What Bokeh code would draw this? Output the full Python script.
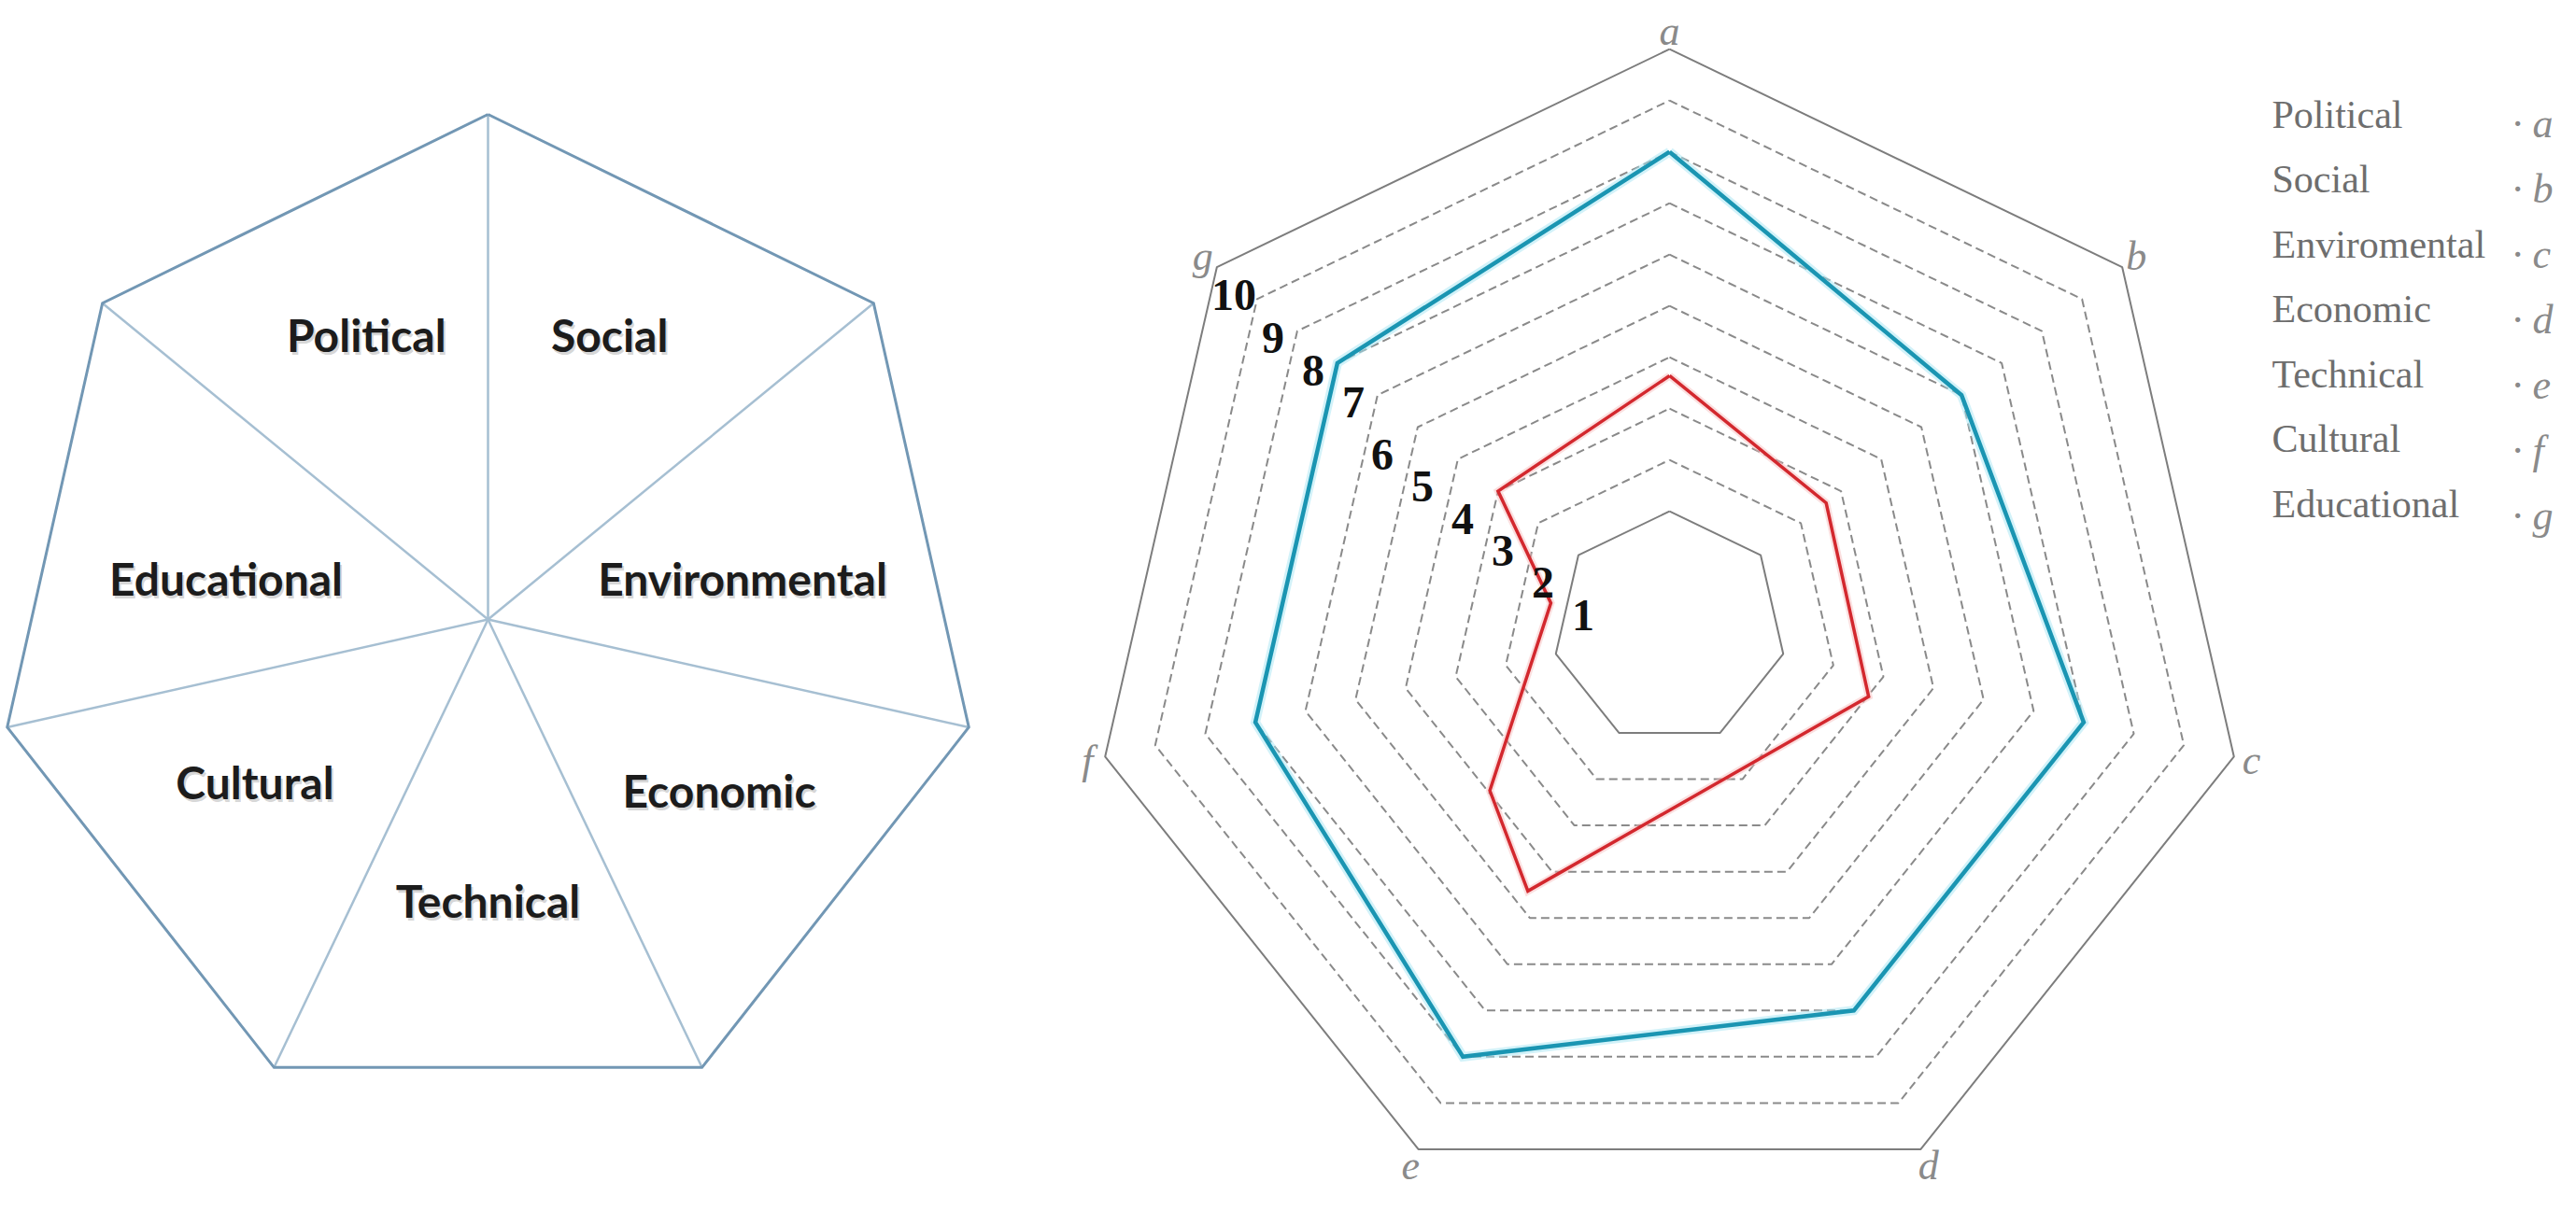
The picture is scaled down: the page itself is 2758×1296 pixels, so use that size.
import math
from bokeh.plotting import figure
from bokeh.layouts import row
from bokeh.models import Range1d
from bokeh.core.properties import value
from bokeh.embed import file_html
from bokeh.resources import INLINE

# ---------------- data ----------------
# left diagram: sectors clockwise starting with the top-right sector
sector_names = ["Social", "Environmental", "Economic", "Technical", "Cultural", "Educational", "Political"]
# right radar chart
axis_letters = ["a", "b", "c", "d", "e", "f", "g"]
legend_names = ["Political", "Social", "Enviromental", "Economic", "Technical", "Cultural", "Educational"]
ring_levels = [1, 2, 3, 4, 5, 6, 7, 8, 9, 10]
ring_labels = ["1", "2", "3", "4", "5", "6", "7", "8", "9", "10"]
blue_values = [8, 6, 7, 7, 8, 7, 7]                     # on axes a..g
red_axis_pos = [0, 1, 2.12, 4.05, 4.43, 5.48, 6]        # position along the axis sequence a..g
red_values = [3.64, 2.63, 2.83, 4.55, 3.45, 1.09, 3.0]

# ---------------- layout ----------------
W_LEFT, W_RIGHT, H = 1092, 1650, 1280
N = len(axis_letters)
STEP = 360.0 / N
HOLE = 1.27          # radial offset of the value scale (ring 1 is not at the centre)


def ang(pos):
    return math.radians(90.0 - pos * STEP)


def polar(pos, v):
    r = v + HOLE
    return r * math.cos(ang(pos)), r * math.sin(ang(pos))


def clean(p):
    p.grid.visible = False
    p.outline_line_color = None
    p.background_fill_color = "white"
    p.border_fill_color = "white"


# ================= left diagram =================
left = figure(width=W_LEFT, height=H, x_range=Range1d(8, 8 + W_LEFT), y_range=Range1d(8 + H, 8),
              output_backend="svg", toolbar_location=None, min_border=0,
              x_axis_location=None, y_axis_location=None)
clean(left)

LCX, LCY, LRX, LRY = 530.0, 667.0, 528.0, 537.0
HUBX, HUBY = 530.0, 671.0
vx = [LCX + LRX * math.cos(ang(i)) for i in range(N)]
vy = [LCY - LRY * math.sin(ang(i)) for i in range(N)]

left.multi_line(xs=[[HUBX, vx[i]] for i in range(N)], ys=[[HUBY, vy[i]] for i in range(N)],
                line_color="#a6bfd2", line_width=2.5)
left.line(x=vx + [vx[0]], y=vy + [vy[0]], line_color="#7297b4", line_width=3, line_join="miter")

LAB_A, LAB_B, LAB_CY = 300.0, 319.0, 653.0
lab_dx = [0, -20, 13, 0, -15, 12, 0]
lab_dy = [0, 45, 2, 0, -7, 45, 0]
lx, ly = [], []
for i in range(N):
    a = ang(i + 0.5)
    lx.append(LCX + LAB_A * math.cos(a) + lab_dx[i])
    ly.append(LAB_CY - LAB_B * math.sin(a) + lab_dy[i])
left.text(x=[x + 2 for x in lx], y=[y + 3 for y in ly], text=sector_names,
          text_font=value("Lato"), text_font_style=value("bold"), text_font_size=value("48px"),
          text_color="#000000", text_alpha=0.18, text_align="center", text_baseline="middle")
left.text(x=lx, y=ly, text=sector_names,
          text_font=value("Lato"), text_font_style=value("bold"), text_font_size=value("48px"),
          text_color="#1c1c1c", text_align="center", text_baseline="middle")

# ================= right radar =================
UNIT = 55.0
CX, CY = 1795.0, 680.0          # radar centre in page pixels
X0 = 8 + W_LEFT
right = figure(width=W_RIGHT, height=H,
               x_range=Range1d((X0 - CX) / UNIT, (X0 + W_RIGHT - CX) / UNIT),
               y_range=Range1d((CY - (8 + H)) / UNIT, (CY - 8) / UNIT),
               output_backend="svg", toolbar_location=None, min_border=0,
               x_axis_location=None, y_axis_location=None)
clean(right)

# rings
for k in ring_levels:
    pts = [polar(i, k) for i in range(N)]
    xs = [p[0] for p in pts] + [pts[0][0]]
    ys = [p[1] for p in pts] + [pts[0][1]]
    if k in (ring_levels[0], ring_levels[-1]):
        right.line(xs, ys, line_color="#7d7d7d", line_width=2)
    else:
        right.line(xs, ys, line_color="#8a8a8a", line_width=2, line_dash="9 5")


def series(pos, vals):
    pts = [polar(p, v) for p, v in zip(pos, vals)]
    xs = [p[0] for p in pts] + [pts[0][0]]
    ys = [p[1] for p in pts] + [pts[0][1]]
    return xs, ys


bx, by = series(list(range(N)), blue_values)
right.line(bx, by, line_color="#a6e6f4", line_width=10, line_alpha=0.5, line_join="miter")
right.line(bx, by, line_color="#1a95b2", line_width=4.5, line_join="miter")

rx, ry = series(red_axis_pos, red_values)
right.line(rx, ry, line_color="#f6b9b9", line_width=8, line_alpha=0.45, line_join="miter")
right.line(rx, ry, line_color="#d3282e", line_width=3.5, line_join="miter")

# axis letters
LET_R = 11.62 - HOLE
ax_pts = [polar(i, LET_R) for i in range(N)]
right.text(x=[p[0] for p in ax_pts], y=[p[1] for p in ax_pts], text=axis_letters,
           text_font=value("Liberation Serif"), text_font_style=value("italic"),
           text_font_size=value("44px"), text_color="#8a8a8a",
           text_align="center", text_baseline="middle")

# ring labels, stacked just inside the g spoke
g_idx = N - 1
tx, ty = [], []
for k in ring_levels:
    gx, gy = polar(g_idx, k)
    if k <= 6:
        dx, dy = 5, 64
    elif k < 10:
        dx, dy = 17, 42
    else:
        dx, dy = 18, 30
    tx.append(gx + dx / UNIT)
    ty.append(gy - dy / UNIT)
right.text(x=tx, y=ty, text=ring_labels,
           text_font=value("Liberation Serif"), text_font_style=value("bold"),
           text_font_size=value("48px"), text_color="#111111",
           text_align="center", text_baseline="middle")

# legend (names with their letters)
LEG_X, LEG_Y0, LEG_DY = 2440.0, 130.0, 69.5
LET_X, LET_Y0, LET_DY = 2697.0, 140.0, 70.0
right.text(x=[(LEG_X - CX) / UNIT] * N,
           y=[(CY - (LEG_Y0 + i * LEG_DY)) / UNIT for i in range(N)],
           text=legend_names, text_font=value("Liberation Serif"),
           text_font_size=value("42px"), text_color="#6e6e6e",
           text_align="left", text_baseline="alphabetic")
right.text(x=[(LET_X - CX) / UNIT] * N,
           y=[(CY - (LET_Y0 + i * LET_DY)) / UNIT for i in range(N)],
           text=["\u00b7 " + s for s in axis_letters], text_font=value("Liberation Serif"),
           text_font_style=value("italic"), text_font_size=value("44px"), text_color="#8a8a8a",
           text_align="left", text_baseline="alphabetic")

layout = row(left, right, spacing=0)
open("out.html", "w").write(file_html(layout, INLINE))
